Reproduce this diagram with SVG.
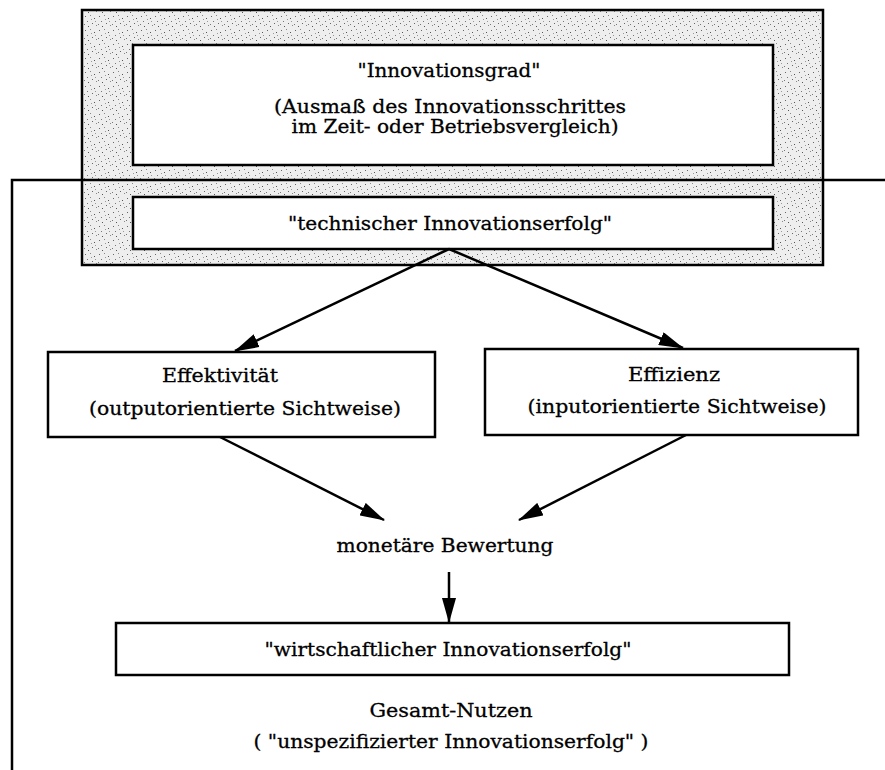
<svg xmlns="http://www.w3.org/2000/svg" width="885" height="770" viewBox="0 0 885 770">
<style>
text{font-family:"DejaVu Serif","Liberation Serif",serif;font-size:19px;fill:#000;text-anchor:middle;stroke:#000;stroke-width:0.3}
.box{fill:#fff;stroke:#000;stroke-width:2.5}
.con{stroke:#000;stroke-width:2.5;fill:none}
</style>
<defs>
<pattern id="stip" width="14" height="14" patternUnits="userSpaceOnUse">
<rect width="14" height="14" fill="#eeeeee"/>
<rect x="1" y="2" width="1" height="1" fill="#666"/>
<rect x="6" y="1" width="1" height="1" fill="#888"/>
<rect x="10" y="4" width="1" height="1" fill="#555"/>
<rect x="3" y="7" width="1" height="1" fill="#777"/>
<rect x="8" y="9" width="1" height="1" fill="#666"/>
<rect x="12" y="11" width="1" height="1" fill="#888"/>
<rect x="4" y="12" width="1" height="1" fill="#555"/>
<rect x="11" y="7" width="1" height="1" fill="#999"/>
<rect x="0" y="10" width="1" height="1" fill="#777"/>
<rect x="7" y="5" width="1" height="1" fill="#999"/>
</pattern>
<marker id="ah" viewBox="0 0 25 14" refX="24" refY="7" markerWidth="25" markerHeight="14" markerUnits="userSpaceOnUse" orient="auto">
<path d="M0,0 L25,7 L0,14 z" fill="#000"/>
</marker>
</defs>
<g id="frame">
<rect x="82" y="10" width="741" height="255" fill="url(#stip)" stroke="#000" stroke-width="2.5"/>
</g>
<g id="innovationsgrad">
<rect class="box" x="133" y="45" width="640" height="120"/>
<text x="449" y="77" textLength="183" lengthAdjust="spacingAndGlyphs">"Innovationsgrad"</text>
<text x="450" y="113" textLength="352" lengthAdjust="spacingAndGlyphs">(Ausmaß des Innovationsschrittes</text>
<text x="455" y="133" textLength="327" lengthAdjust="spacingAndGlyphs">im Zeit- oder Betriebsvergleich)</text>
</g>
<g id="technisch">
<rect class="box" x="133" y="197" width="640" height="52"/>
<text x="450" y="230" textLength="324" lengthAdjust="spacingAndGlyphs">"technischer Innovationserfolg"</text>
</g>
<g id="effektivitaet">
<rect class="box" x="48" y="352" width="387" height="85"/>
<text x="220" y="382" textLength="116" lengthAdjust="spacingAndGlyphs">Effektivität</text>
<text x="245" y="415" textLength="312" lengthAdjust="spacingAndGlyphs">(outputorientierte Sichtweise)</text>
</g>
<g id="effizienz">
<rect class="box" x="485" y="349" width="373" height="86"/>
<text x="674" y="381" textLength="92" lengthAdjust="spacingAndGlyphs">Effizienz</text>
<text x="677" y="413" textLength="299" lengthAdjust="spacingAndGlyphs">(inputorientierte Sichtweise)</text>
</g>
<g id="monetaer">
<text x="445" y="552" textLength="217" lengthAdjust="spacingAndGlyphs">monetäre Bewertung</text>
</g>
<g id="wirtschaftlich">
<rect class="box" x="116" y="623" width="673" height="52"/>
<text x="448" y="656" textLength="367" lengthAdjust="spacingAndGlyphs">"wirtschaftlicher Innovationserfolg"</text>
</g>
<g id="gesamt">
<text x="451" y="717" textLength="163" lengthAdjust="spacingAndGlyphs">Gesamt-Nutzen</text>
<text x="451" y="748" textLength="395" lengthAdjust="spacingAndGlyphs">( "unspezifizierter Innovationserfolg" )</text>
</g>
<g id="connectors">
<polyline class="con" stroke-width="3" points="885,180 12,180 12,770"/>
<line class="con" x1="449" y1="249" x2="235" y2="351" marker-end="url(#ah)"/>
<line class="con" x1="449" y1="249" x2="683" y2="348" marker-end="url(#ah)"/>
<line class="con" x1="220" y1="437" x2="384" y2="520" marker-end="url(#ah)"/>
<line class="con" x1="686" y1="435" x2="519" y2="520" marker-end="url(#ah)"/>
<line class="con" x1="449" y1="572" x2="449" y2="622" marker-end="url(#ah)"/>
</g>
</svg>
